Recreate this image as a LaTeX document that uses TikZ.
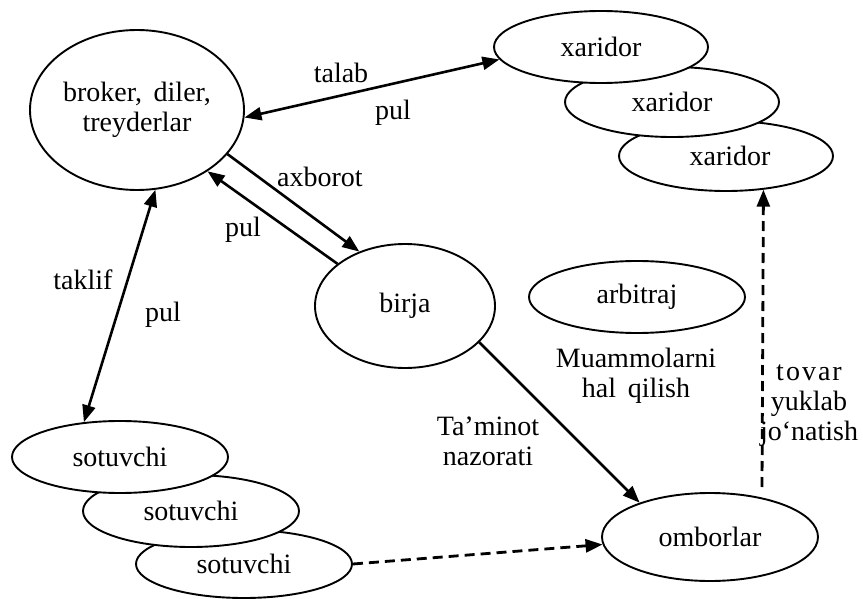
\documentclass[tikz,border=0pt]{standalone}
\usepackage{fontspec}
\setmainfont{Liberation Serif}
\usetikzlibrary{arrows.meta, shapes.geometric}

\begin{document}
\begin{tikzpicture}[x=1pt, y=-1pt,
    ell/.style={ellipse, draw, line width=1.9pt, fill=white, inner sep=0pt,
                align=center, font=\fontsize{28}{30}\selectfont},
    lbl/.style={inner sep=0pt, align=center, font=\fontsize{28}{30}\selectfont},
    arr/.style={line width=2.6pt, -{Triangle[length=17pt, width=13pt]}},
    dbl/.style={line width=2.6pt,
                {Triangle[length=17pt, width=13pt]}-{Triangle[length=17pt, width=13pt]}},
    dasharr/.style={line width=2.8pt, dash pattern=on 10pt off 6pt,
                    -{Triangle[length=17pt, width=13pt]}}]
    \useasboundingbox (0,0) rectangle (863,599);
    % brokers
    \node[ell, minimum width=214pt, minimum height=160pt] (broker) at (137,110)
        {broker,\, diler,\\treyderlar};
    % buyers (back to front)
    \node[ell, minimum width=214pt, minimum height=70pt] (xaridorC) at (726,156) {\hspace{8pt}xaridor};
    \node[ell, minimum width=214pt, minimum height=70pt] (xaridorB) at (672,102) {xaridor};
    \node[ell, minimum width=214pt, minimum height=72pt] (xaridorA) at (601,47) {xaridor};
    % sellers (back to front)
    \node[ell, minimum width=216pt, minimum height=68pt] (sotuvchiC) at (244,564) {sotuvchi};
    \node[ell, minimum width=216pt, minimum height=72pt] (sotuvchiB) at (191,511) {sotuvchi};
    \node[ell, minimum width=216pt, minimum height=72pt] (sotuvchiA) at (120,457) {sotuvchi};
    % exchange, arbitration, warehouses
    \node[ell, minimum width=180pt, minimum height=124pt] (birja) at (405,306) {birja};
    \node[ell, minimum width=216pt, minimum height=72pt] (arbitraj) at (637,297) {arbitraj};
    \node[ell, minimum width=216pt, minimum height=88pt] (omborlar) at (710,537) {omborlar};
    % connectors
    \draw[dbl] (broker.-4) -- (xaridorA.187);
    \draw[arr] (broker.-26.3) -- (birja.130);
    \draw[arr] (birja.148.2) -- (broker.-41.2);
    \draw[dbl] (broker.-77.6) -- (sotuvchiA.136.6);
    \draw[arr] (birja.-26.3) -- (omborlar.154.4);
    \draw[dasharr] (sotuvchiC.east) -- (omborlar.184.3);
    \coordinate (tovS) at (762,487);
    \draw[dasharr] (tovS) -- (xaridorC.-42.5);
    % labels
    \node[lbl] (talab) at (341,73) {talab};
    \node[lbl] (pulA) at (393,113) {pul};
    \node[lbl] (axborot) at (320,177) {axborot};
    \node[lbl] (pulB) at (243,230) {pul};
    \node[lbl] (taklif) at (83,280) {taklif};
    \node[lbl] (pulC) at (163,315) {pul};
    \node[lbl] (taminot) at (488,441) {Ta’minot\\nazorati};
    \node[lbl] (muammo) at (636,376) {Muammolarni\\hal\, qilish};
    \node[lbl] (tovar) at (809,406)
        {t\kern2pt o\kern2pt v\kern2pt a\kern2pt r\\yuklab\\jo‘natish};
\end{tikzpicture}
\end{document}
